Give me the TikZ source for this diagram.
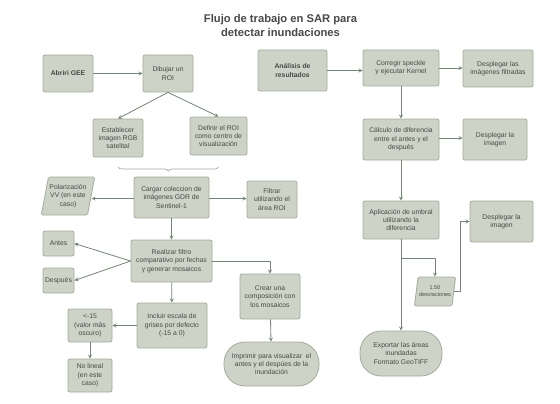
\documentclass[tikz,border=0pt]{standalone}
\usepackage{fontspec}
\setmainfont{Liberation Sans}
\usetikzlibrary{shapes.geometric,decorations.pathreplacing}
\definecolor{boxfill}{HTML}{CDD3C6}
\definecolor{boxline}{HTML}{A3AC9E}
\definecolor{flowline}{HTML}{758575}
\definecolor{txt}{HTML}{474A47}
\begin{document}
\begin{tikzpicture}[x=1pt, y=-1pt, line join=round, >=stealth,
    font=\fontsize{6.8}{8.3}\selectfont,
    box/.style={draw=boxline, fill=boxfill, line width=0.8pt, rounded corners=2pt, align=center, text=txt, inner sep=1pt},
    slant/.style={box, trapezium, trapezium left angle=74, trapezium right angle=106, trapezium stretches body, rounded corners=1.5pt},
    pill/.style={box, rounded corners=21pt},
    flow/.style={draw=flowline, line width=0.8pt, ->}]
    \useasboundingbox[fill=white] (0,0) rectangle (560,404);
    % title
    \node[text=txt, align=center, font=\fontsize{11.2}{14}\selectfont\bfseries] (title) at (280.5,25) {Flujo de trabajo en SAR para\\detectar inundaciones};
    % left column
    \node[box, minimum width=50, minimum height=37, font=\fontsize{6.8}{8.3}\selectfont\bfseries] (gee) at (68,73.5) {Abriri GEE};
    \node[box, minimum width=50, minimum height=37] (roi) at (168,73.5) {Dibujar un\\ROI};
    \node[box, minimum width=50, minimum height=38] (rgb) at (118,138) {Establecer\\imagen RGB\\satelital};
    \node[box, minimum width=57, minimum height=38] (centro) at (218.5,136) {Definir el ROI\\como centro de\\visualización};
    \node[slant, minimum width=52, minimum height=38] (polar) at (68,196) {Polarización\\VV (en este\\caso)};
    \node[box, minimum width=75, minimum height=41] (cargar) at (171.5,197.5) {Cargar coleccion de\\imágenes GDR de\\Sentinel-1};
    \node[box, minimum width=50, minimum height=37] (filtrar) at (272,199.5) {Filtrar\\utilizando el\\área ROI};
    \node[box, minimum width=31, minimum height=25] (antes) at (58.5,243.5) {Antes};
    \node[box, minimum width=31, minimum height=25] (despues) at (58.5,280.5) {Después};
    \node[box, minimum width=81, minimum height=42] (mosaico) at (171.5,261) {Realizar filtro\\comparativo por fechas\\y generar mosaicos};
    \node[box, minimum width=70, minimum height=45] (grises) at (172,325.5) {Incluir escala de\\grises por defecto\\(-15 a 0)};
    \node[box, minimum width=44, minimum height=33] (oscuro) at (90,325.5) {<-15\\(valor más\\oscuro)};
    \node[box, minimum width=44, minimum height=33] (lineal) at (90,375.5) {No lineal\\(en este\\caso)};
    \node[box, minimum width=60, minimum height=45] (compo) at (270,296.5) {Crear una\\composición con\\los mosaicos};
    \node[pill, minimum width=95, minimum height=44] (imprimir) at (271.5,364) {Imprimir para visualizar\ \ el\\antes y el despúes de la\\inundación};
    % right column
    \node[box, minimum width=69, minimum height=41, font=\fontsize{6.8}{8.3}\selectfont\bfseries] (analisis) at (292.5,70.5) {Análisis de\\resultados};
    \node[box, minimum width=76, minimum height=36] (speckle) at (401,68) {Corregir speckle\\y ejecutar Kernel};
    \node[box, minimum width=70, minimum height=37] (filtradas) at (498,68.5) {Desplegar las\\imágenes filtradas};
    \node[box, minimum width=76, minimum height=41] (dif) at (401,139.5) {Cálculo de diferencia\\entre el antes y el\\después};
    \node[box, minimum width=64, minimum height=41] (imgdif) at (495,139.5) {Desplegar la\\imagen};
    \node[box, minimum width=76, minimum height=38] (umbral) at (401,220) {Aplicación de umbral\\utilizando la\\diferencia};
    \node[box, minimum width=63, minimum height=41] (imgumb) at (501.5,221.5) {Desplegar la\\imagen};
    \node[slant, minimum width=38, minimum height=29, font=\fontsize{5.5}{7}\selectfont] (desv) at (435,291.5) {1.50\\desviaciones};
    \node[pill, minimum width=82, minimum height=45] (geotiff) at (401,353.5) {Exportar las áreas\\inundadas\\Formato GeoTIFF};
    % connectors
    \draw[flow] (gee) -- (roi);
    \draw[flow] (roi.south) -- (rgb.north);
    \draw[flow] (roi.south) -- (centro.north);
    \draw[draw=boxline, line width=0.7pt, decorate, decoration={brace, mirror, amplitude=4pt}] (rgb.south |- 0,167) -- (centro.south |- 0,167);
    \draw[flow] (cargar.west |- 0,198.5) -- (polar.east |- 0,198.5);
    \draw[flow] (cargar.east |- 0,198.5) -- (filtrar.west |- 0,198.5);
    \draw[flow] (cargar) -- (mosaico);
    \draw[flow] (mosaico.west) -- (antes.east);
    \draw[flow] (mosaico.west) -- (despues.east);
    \draw[flow] (mosaico.east) -| (compo.north);
    \draw[flow] (mosaico) -- (grises);
    \draw[flow] (grises) -- (oscuro);
    \draw[flow] (oscuro) -- (lineal);
    \draw[flow] (compo) -- (imprimir);
    \draw[flow] (analisis.east) -- (analisis.east -| speckle.west);
    \draw[flow] (speckle.east) -- (speckle.east -| filtradas.west);
    \draw[flow] (speckle) -- (dif);
    \draw[flow] (dif.east |- 0,138) -- (imgdif.west |- 0,138);
    \draw[flow] (dif) -- (umbral);
    \draw[flow] (umbral.south) -- ++(0,19) -| (desv.north);
    \draw[flow] (umbral) -- (geotiff);
    \draw[flow] (desv.east) -- ++(6,0) |- (imgumb.west);
\end{tikzpicture}
\end{document}
